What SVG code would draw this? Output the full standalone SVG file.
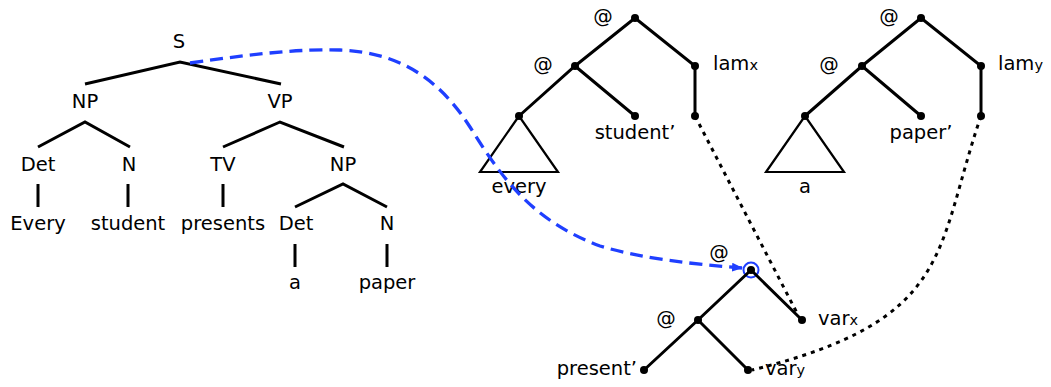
<svg xmlns="http://www.w3.org/2000/svg" width="1051" height="387" viewBox="0 0 1051 387">
<defs>
<style>
text{font-family:"DejaVu Sans",sans-serif;font-size:19.5px;fill:#000}
.c{text-anchor:middle}
.r{text-anchor:end}
.sub{font-size:14.5px}
.e{stroke:#000;stroke-width:3;fill:none;stroke-linecap:butt}
.t{stroke:#000;stroke-width:2.2;fill:none}
.n{fill:#000}
.dot{stroke:#000;stroke-width:3;fill:none;stroke-dasharray:4 5}
.blue{stroke:#1f3fff;stroke-width:3.3;fill:none;stroke-dasharray:13 7}
</style>
<marker id="arr" markerWidth="11" markerHeight="9" refX="10" refY="4.5" orient="auto" markerUnits="userSpaceOnUse">
<path d="M0,0 L11,4.5 L0,9 z" fill="#1f3fff"/>
</marker>
</defs>
<rect width="1051" height="387" fill="#fff"/>
<g id="parse-tree">
<g id="S"><text class="c" x="179" y="48">S</text></g>
<g id="NP1"><text class="c" x="85" y="108">NP</text></g>
<g id="VP"><text class="c" x="280" y="108">VP</text></g>
<g id="Det1"><text class="c" x="38" y="171">Det</text></g>
<g id="N1"><text class="c" x="129" y="171">N</text></g>
<g id="TV"><text class="c" x="223" y="171">TV</text></g>
<g id="NP2"><text class="c" x="343" y="171">NP</text></g>
<g id="Every"><text class="c" x="38" y="230">Every</text></g>
<g id="student"><text class="c" x="128" y="230">student</text></g>
<g id="presents"><text class="c" x="223" y="230">presents</text></g>
<g id="Det2"><text class="c" x="296" y="230">Det</text></g>
<g id="N2"><text class="c" x="387" y="230">N</text></g>
<g id="a1"><text class="c" x="295" y="289">a</text></g>
<g id="paper"><text class="c" x="387" y="289">paper</text></g>
</g>
<g id="tree-every">
<g id="at1"><circle class="n" cx="635" cy="18" r="4"/><text class="c" x="603" y="23">@</text></g>
<g id="at2"><circle class="n" cx="575" cy="66" r="4"/><text class="c" x="543" y="71">@</text></g>
<g id="lamx"><circle class="n" cx="695" cy="66" r="4"/><text x="713" y="70">lam<tspan class="sub">x</tspan></text></g>
<g id="every-node"><circle class="n" cx="519" cy="116" r="4"/><path class="t" d="M519,116 L480,172 L558,172 Z"/><text class="c" x="519" y="193">every</text></g>
<g id="studentp"><circle class="n" cx="635" cy="116" r="4"/><text class="c" x="635" y="139">student’</text></g>
<g id="lamx-body"><circle class="n" cx="695" cy="116" r="4"/></g>
</g>
<g id="tree-a">
<g id="at3"><circle class="n" cx="921" cy="18" r="4"/><text class="c" x="889" y="23">@</text></g>
<g id="at4"><circle class="n" cx="862" cy="66" r="4"/><text class="c" x="829" y="71">@</text></g>
<g id="lamy"><circle class="n" cx="981" cy="66" r="4"/><text x="998" y="70">lam<tspan class="sub">y</tspan></text></g>
<g id="a-node"><circle class="n" cx="805" cy="116" r="4"/><path class="t" d="M805,116 L766,172 L844,172 Z"/><text class="c" x="805" y="193">a</text></g>
<g id="paperp"><circle class="n" cx="921" cy="116" r="4"/><text class="c" x="921" y="139">paper’</text></g>
<g id="lamy-body"><circle class="n" cx="981" cy="116" r="4"/></g>
</g>
<g id="tree-present">
<g id="at5"><circle class="n" cx="751" cy="270" r="4"/><circle cx="751" cy="270" r="7.5" fill="none" stroke="#1f3fff" stroke-width="2"/><text class="c" x="719" y="259">@</text></g>
<g id="at6"><circle class="n" cx="698" cy="320" r="4"/><text class="c" x="666" y="325">@</text></g>
<g id="varx"><circle class="n" cx="802" cy="320" r="4"/><text x="818" y="325">var<tspan class="sub">x</tspan></text></g>
<g id="presentp"><circle class="n" cx="644" cy="370" r="4"/><text class="r" x="637" y="375">present’</text></g>
<g id="vary"><circle class="n" cx="748" cy="370" r="4"/><text x="765" y="375">var<tspan class="sub">y</tspan></text></g>
</g>
<g id="connectors">
<path class="e" d="M85,84 L180,62 L281,84"/>
<path class="e" d="M38,147 L85,122 L130,147"/>
<path class="e" d="M223,147 L280,122 L344,147"/>
<path class="e" d="M295,207 L343,184 L387,207"/>
<path class="e" d="M38,184 V207 M128,184 V207 M223,184 V207 M295,244 V267 M387,244 V267"/>
<path class="e" d="M519,116 L575,66 L635,18 L695,66 V116 M575,66 L635,116"/>
<path class="e" d="M805,116 L862,66 L921,18 L981,66 V116 M862,66 L921,116"/>
<path class="e" d="M644,370 L698,320 L751,270 L802,320 M698,320 L748,370"/>
<path class="dot" d="M695,116 L797,313"/>
<path class="dot" d="M981,116 C935,250 955,320 752,370"/>
<path class="blue" marker-end="url(#arr)" d="M190,63 C260,53 300,49 340,50 C400,52 440,80 470,127 C500,175 530,220 600,246 C640,258 690,264 742,268"/>
</g>
</svg>
